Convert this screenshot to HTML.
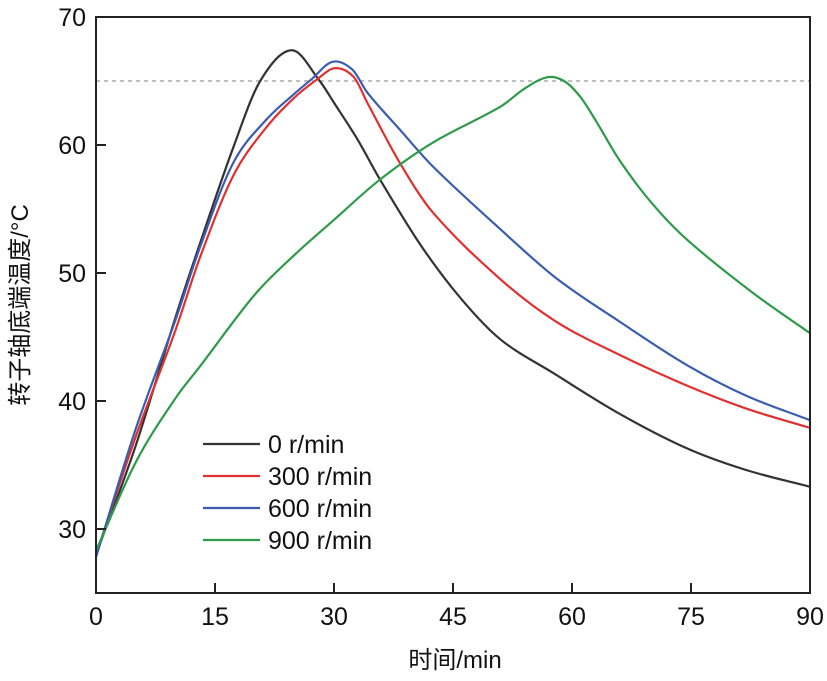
<!DOCTYPE html>
<html><head><meta charset="utf-8"><style>
body{margin:0;background:#fff}
svg text{font-family:"Liberation Sans","Noto Sans CJK SC",sans-serif;fill:#111}
</style></head><body>
<svg id="c" width="827" height="676" viewBox="0 0 827 676">
<g id="g"></g>
</svg>
<script>
const ticksX=[0,15,30,45,60,75,90];
const ticksY=[30,40,50,60,70];
const t0=[0,5,10,13.1,17.3,20.7,24.7,28.2,30,33,35.8,40.9,46,51,57.6,66,74.5,82,90];
const v0=[28,36.5,46.5,52.3,59.8,65,67.4,65,63.3,60.4,57.3,52.2,48,44.8,42.2,39.0,36.3,34.6,33.3];
const t300=[0,5,10,13.1,17.3,21.5,25,27.8,30.1,32.5,34.2,38.3,42.5,51,58,66,74.5,82,90];
const v300=[28,37.2,45.5,51.2,57.6,61.4,63.7,65.1,66,65.3,63.3,58.6,54.7,49.5,46.2,43.6,41.2,39.4,37.9];
const t600=[0,5,10,13.1,17.3,21.5,25,27.1,29.8,32.3,34.2,38.3,42.5,51,58,66,74.5,82,90];
const v600=[27.8,37.8,46.3,52,58.6,62,64,65.1,66.5,65.9,64.1,61.2,58.3,53.4,49.6,46.2,42.8,40.4,38.5];
const t900=[0,5,10,13.1,20,25,29.9,35.8,42.5,51,54,56.9,59,61,63,66,70,74.5,82.9,90];
const v900=[28.3,35.2,40.2,42.7,48.3,51.4,54.1,57.3,60.2,63,64.4,65.3,65,63.8,61.9,58.8,55.5,52.6,48.4,45.3];
const series=[
 {name:"0 r/min",t:t0,v:v0,c:"#333"},
 {name:"300 r/min",t:t300,v:v300,c:"#e03030"},
 {name:"600 r/min",t:t600,v:v600,c:"#3a5db0"},
 {name:"900 r/min",t:t900,v:v900,c:"#2f9a4a"}];
const X0=96,X1=810,Y70=17,Yb=593;
const sx=t=>X0+(X1-X0)*t/90;
const sy=v=>Y70+(70-v)*12.8;
const g=document.getElementById('g');
const NS='http://www.w3.org/2000/svg';
function el(tag,a,txt){const e=document.createElementNS(NS,tag);for(const k in a)e.setAttribute(k,a[k]);if(txt!==undefined)e.textContent=txt;g.appendChild(e);return e;}
function cr(pts){let d='M'+pts[0][0]+','+pts[0][1];
for(let i=0;i<pts.length-1;i++){const p0=pts[i-1]||pts[i],p1=pts[i],p2=pts[i+1],p3=pts[i+2]||p2;
const h=(p2[0]-p1[0]);
const m1=(p2[1]-p0[1])/(p2[0]-p0[0]),m2=(p3[1]-p1[1])/(p3[0]-p1[0]);
d+=' C'+(p1[0]+h/3)+','+(p1[1]+m1*h/3)+' '+(p2[0]-h/3)+','+(p2[1]-m2*h/3)+' '+p2[0]+','+p2[1];}
return d;}
let e=el('line',{x1:X0,x2:X1,y1:sy(65),y2:sy(65),stroke:'#999','stroke-width':1.2,'stroke-dasharray':'4,4'});

series.forEach((s,i)=>{
 const p=el('path',{d:cr(s.t.map((t,j)=>[sx(t),sy(s.v[j])])),fill:'none',stroke:s.c,'stroke-width':2.2});
 
 
 const y=444+i*32;
 const l=el('line',{x1:203,x2:260,y1:y,y2:y,stroke:s.c,'stroke-width':2.2});
 
 
 const tx=el('text',{x:268,y:y+9,'font-size':25},s.name);
 
 
});
e=el('rect',{x:X0,y:Y70,width:X1-X0,height:Yb-Y70,fill:'none',stroke:'#222','stroke-width':2});

ticksX.forEach(t=>{const l=el('line',{x1:sx(t),x2:sx(t),y1:Yb,y2:Yb-10,stroke:'#222','stroke-width':2});

const tx=el('text',{x:sx(t),y:625,'font-size':25,'text-anchor':'middle'},String(t));
});
ticksY.forEach(v=>{const l=el('line',{x1:X0,x2:X0+10,y1:sy(v),y2:sy(v),stroke:'#222','stroke-width':2});

const tx=el('text',{x:86,y:sy(v)+9,'font-size':25,'text-anchor':'end'},String(v));
});
e=el('text',{x:455,y:668,'font-size':24,'text-anchor':'middle'},'时间/min');

e=el('text',{x:0,y:0,'font-size':24,'text-anchor':'middle',transform:'translate(28,305) rotate(-90)'},'转子轴底端温度/°C');

</script>
</body></html>
